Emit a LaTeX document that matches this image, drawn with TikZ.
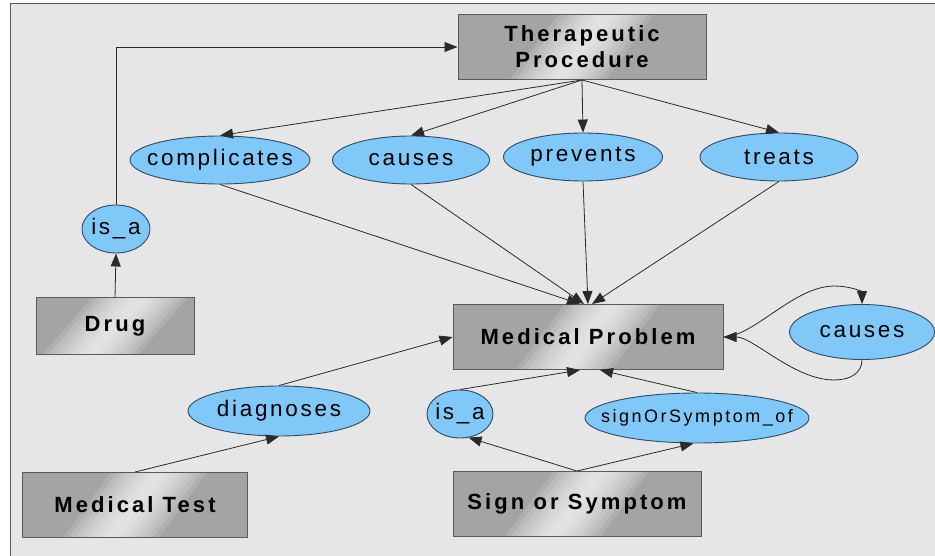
\documentclass[tikz,border=0pt]{standalone}
\usepackage{fontspec}
\setmainfont{Liberation Sans}
\newfontfamily\conceptfont[LetterSpace=14]{Liberation Sans}
\newfontfamily\relationfont[LetterSpace=12]{Liberation Sans}
\newfontfamily\smallrelationfont[LetterSpace=14]{Liberation Sans}
\usetikzlibrary{arrows.meta,calc,shapes.geometric}

\definecolor{bggrey}{HTML}{E6E6E6}
\definecolor{framegrey}{HTML}{5A5A5A}
\definecolor{boxgrey}{HTML}{A4A4A4}
\definecolor{relblue}{HTML}{80C8F8}
\definecolor{reledge}{HTML}{2E4A64}
\definecolor{linegrey}{HTML}{2A2A2A}

\tikzset{
  concept/.style={draw=framegrey, line width=1pt, inner sep=0pt, align=center, fill=boxgrey,
    font=\conceptfont\bfseries\fontsize{22}{26}\selectfont,
    path picture={
      % soft diagonal shine
      \foreach \w in {48,42,...,6}
        \fill[white, opacity=0.14]
          ($(path picture bounding box.south)+(-\w-24,0)$) -- ($(path picture bounding box.south)+(\w-24,0)$)
          -- ($(path picture bounding box.north)+(\w+24,0)$) -- ($(path picture bounding box.north)+(-\w+24,0)$) -- cycle;
    }},
  relation/.style={ellipse, draw=reledge, fill=relblue, line width=0.9pt,
    inner xsep=-30pt, inner ysep=0pt,
    font=\relationfont\fontsize{22.5}{26}\selectfont},
  link/.style={draw=linegrey, line width=0.8pt, -{Triangle[length=13pt,width=10pt]}},
}

\begin{document}
\begin{tikzpicture}[x=1pt, y=1pt, yscale=-1]
    \useasboundingbox (0,0) rectangle (935,556);
    \fill[white] (0,0) rectangle (935,556);
    \draw[framegrey, fill=bggrey, line width=1pt] (10,4) rectangle (960,580);

    % Define the positions of the concepts
    \coordinate (tpPos) at (582, 47);
    \coordinate (mpPos) at (588, 337);
    \coordinate (drugPos) at (115, 326);
    \coordinate (testPos) at (135, 505);
    \coordinate (signPos) at (577, 504);

    % Define the positions of the relations
    \coordinate (complicatesPos) at (220, 160);
    \coordinate (causesPos) at (411, 160);
    \coordinate (preventsPos) at (583, 157);
    \coordinate (treatsPos) at (779, 157);
    \coordinate (isaDrugPos) at (116, 229);
    \coordinate (causesSelfPos) at (862, 332);
    \coordinate (diagnosesPos) at (279, 411);
    \coordinate (isaSignPos) at (460, 414);
    \coordinate (signOfPos) at (697, 418);

    % Draw the concepts
    \node[concept, minimum width=248pt, minimum height=65pt] (tp) at (tpPos) {Therapeutic\\Procedure};
    \node[concept, minimum width=270pt, minimum height=65pt] (mp) at (mpPos) {Medical Problem};
    \node[concept, minimum width=158pt, minimum height=56pt] (drug) at (drugPos) {Drug};
    \node[concept, minimum width=225pt, minimum height=65pt] (test) at (testPos) {Medical Test};
    \node[concept, minimum width=248pt, minimum height=65pt] (sign) at (signPos) {Sign or Symptom};

    % Draw the relations
    \node[relation, minimum width=180pt, minimum height=48pt] (complicates) at (complicatesPos) {complicates};
    \node[relation, minimum width=157pt, minimum height=48pt] (causes) at (causesPos) {causes};
    \node[relation, minimum width=159pt, minimum height=48pt] (prevents) at (preventsPos) {prevents};
    \node[relation, minimum width=158pt, minimum height=48pt] (treats) at (treatsPos) {treats};
    \node[relation, minimum width=68pt, minimum height=48pt] (isaDrug) at (isaDrugPos) {is\_a};
    \node[relation, minimum width=145pt, minimum height=55pt] (causesSelf) at (causesSelfPos) {causes};
    \node[relation, minimum width=182pt, minimum height=50pt] (diagnoses) at (diagnosesPos) {diagnoses};
    \node[relation, minimum width=66pt, minimum height=48pt] (isaSign) at (isaSignPos) {is\_a};
    \node[relation, minimum width=224pt, minimum height=50pt, font=\smallrelationfont\fontsize{18}{22}\selectfont] (signOf) at (signOfPos) {signOrSymptom\_of};

    % Draw the links
    \draw[link] (drug.north) -- (isaDrug.south);
    \draw[link] (isaDrug.north) |- (tp.west);
    \draw[link] (tp.south) -- (complicates.north);
    \draw[link] (tp.south) -- (causes.north);
    \draw[link] (tp.south) -- (prevents.north);
    \draw[link] (tp.south) -- (treats.north);
    \draw[link] (complicates.south) -- ([xshift=-8pt]mp.north);
    \draw[link] (causes.south) -- ([xshift=-4pt]mp.north);
    \draw[link] (prevents.south) -- (mp.north);
    \draw[link] (treats.south) -- ([xshift=4pt]mp.north);
    \draw[link] (test.north) -- (diagnoses.south);
    \draw[link] (diagnoses.north) -- (mp.west);
    \draw[link] (sign.north) -- (isaSign.-70);
    \draw[link] (sign.north) -- (signOf.-98);
    \draw[link] (isaSign.north) -- ([xshift=-8pt]mp.south);
    \draw[link] (signOf.north) -- ([xshift=12pt]mp.south);
    \draw[link] (mp.east) .. controls +(30,0) and +(-40,0) .. ($(causesSelf.north)+(-28,-18)$)
        .. controls +(18,0) and +(0,-12) .. (causesSelf.north);
    \draw[link] (causesSelf.south) .. controls +(0,12) and +(18,0) .. ($(causesSelf.south)+(-28,20)$)
        .. controls +(-40,0) and +(30,0) .. (mp.east);
\end{tikzpicture}
\end{document}
